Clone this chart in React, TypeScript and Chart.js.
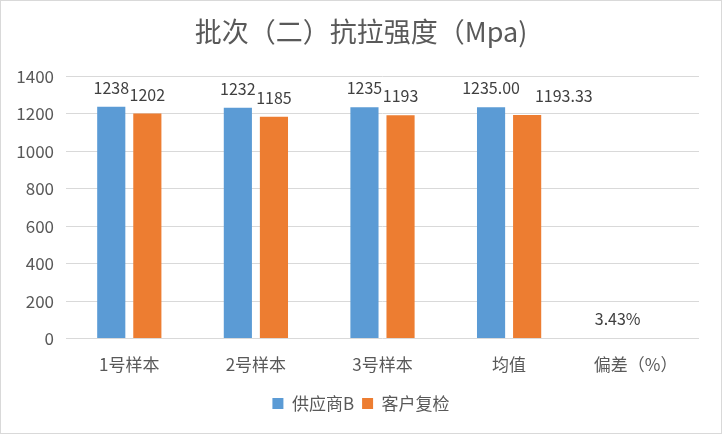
import React, { useEffect, useRef } from "react";
import { Chart, registerables } from "chart.js";

Chart.register(...registerables);

const categories = ["1号样本", "2号样本", "3号样本", "均值", "偏差（%）"];
const supplierValues: (number | null)[] = [1238, 1232, 1235, 1235.0, 3.43];
const customerValues: (number | null)[] = [1202, 1185, 1193, 1193.33, null];
const supplierLabels = ["1238", "1232", "1235", "1235.00", "3.43%"];
const customerLabels = ["1202", "1185", "1193", "1193.33", ""];
const yTicks = [0, 200, 400, 600, 800, 1000, 1200, 1400];

const FONT = "'Noto Sans CJK SC', 'Noto Sans', sans-serif";

const labelPlugin = {
  id: "barLabels",
  afterDatasetsDraw(chart: any) {
    const ctx = chart.ctx;
    const allLabels = [supplierLabels, customerLabels];
    ctx.save();
    ctx.font = `16px ${FONT}`;
    ctx.fillStyle = "#404040";
    ctx.textAlign = "center";
    ctx.textBaseline = "middle";
    const n = categories.length;
    for (let i = 0; i < n; i++) {
      let prevRight = -Infinity;
      chart.data.datasets.forEach((ds: any, di: number) => {
        const v = ds.data[i];
        if (v === null || v === undefined) return;
        const el = chart.getDatasetMeta(di).data[i];
        const text = allLabels[di][i];
        const w = ctx.measureText(text).width;
        let cx = el.x;
        if (cx - w / 2 < prevRight) cx = prevRight + 15 + w / 2;
        ctx.fillText(text, cx, el.y - 19);
        prevRight = cx + w / 2;
      });
    }
    ctx.restore();
  },
};

export default function App() {
  const ref = useRef<HTMLCanvasElement>(null);
  useEffect(() => {
    if (!ref.current) return;
    const chart = new Chart(ref.current, {
      type: "bar",
      data: {
        labels: categories,
        datasets: [
          {
            label: "供应商B",
            data: supplierValues,
            backgroundColor: "#5B9BD5",
            barPercentage: 0.78,
            categoryPercentage: 0.57,
          },
          {
            label: "客户复检",
            data: customerValues,
            backgroundColor: "#ED7D31",
            barPercentage: 0.78,
            categoryPercentage: 0.57,
          },
        ],
      },
      options: {
        responsive: false,
        animation: false,
        layout: { padding: { left: 0, right: 0, top: 0, bottom: 11 } },
        plugins: {
          title: {
            display: true,
            text: "批次（二）抗拉强度（Mpa)",
            color: "#595959",
            font: { family: FONT, size: 27, weight: "normal" },
            padding: { top: 15, bottom: 28 },
          },
          legend: {
            position: "bottom",
            labels: {
              color: "#595959",
              font: { family: FONT, size: 17 },
              boxWidth: 11,
              boxHeight: 11,
              padding: 8,
            },
          },
          tooltip: { enabled: false },
        },
        scales: {
          x: {
            grid: { display: false },
            border: { display: false },
            afterFit(scale: any) {
              scale.height += 4;
            },
            ticks: {
              color: "#595959",
              font: { family: FONT, size: 17 },
              padding: 8,
            },
          },
          y: {
            min: 0,
            max: 1400,
            afterBuildTicks(scale: any) {
              scale.ticks = yTicks.map((v) => ({ value: v }));
            },
            afterFit(scale: any) {
              scale.width = 65;
            },
            grid: { color: "#d9d9d9", lineWidth: 1, drawTicks: false },
            border: { display: false },
            ticks: {
              color: "#595959",
              font: { family: FONT, size: 17 },
              padding: 12,
              callback: (v: any) => String(v),
            },
          },
          yRightSpace: {
            position: "right",
            display: true,
            grid: { display: false, drawTicks: false },
            border: { display: false },
            ticks: { display: false },
            afterFit(scale: any) {
              scale.width = 22;
            },
          },
        },
      },
      plugins: [labelPlugin],
    });
    return () => chart.destroy();
  }, []);
  return (
    <div
      style={{
        position: "absolute",
        left: 0,
        top: 0,
        width: 722,
        height: 434,
        boxSizing: "border-box",
        border: "1px solid #d9d9d9",
        background: "#fff",
      }}
    >
      <canvas ref={ref} width={720} height={432} style={{ display: "block" }} />
    </div>
  );
}
